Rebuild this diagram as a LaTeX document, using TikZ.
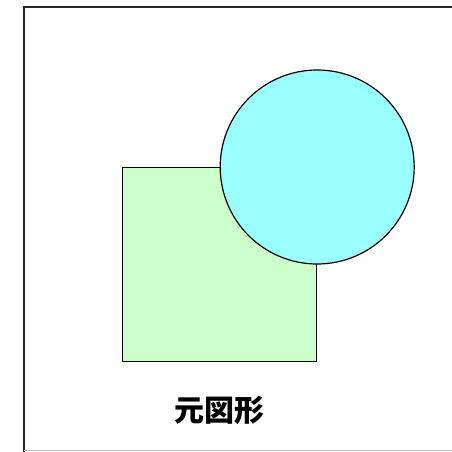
\documentclass[tikz,border=0pt]{standalone}
\usepackage{fontspec}
\newfontfamily\cjk{Noto Sans CJK JP}
\definecolor{sqgreen}{RGB}{204,255,204}
\definecolor{circcyan}{RGB}{153,255,255}
\begin{document}
\begin{tikzpicture}[x=1pt,y=-1pt,
  shapeline/.style={draw=black,line width=1.2pt},
  frameline/.style={draw=black!85,line width=2pt}]
\useasboundingbox (0,0) rectangle (452,452);
\fill[white] (0,0) rectangle (452,452);
\coordinate (ftr) at (452,7);
\coordinate (ftl) at (24,7);
\coordinate (fbl) at (24,452);
\draw[frameline] (ftr) -- (ftl) -- (fbl);
\draw[black!25,line width=1pt] (24,450.5) -- (452,450.5);
\node[shapeline,fill=sqgreen,minimum size=194pt,inner sep=0pt,anchor=north west] (sq) at (122,167) {};
\node[shapeline,fill=circcyan,circle,minimum size=194pt,inner sep=0pt] (circ) at (sq.north east) {};
\node[font=\cjk\bfseries\fontsize{30}{30}\selectfont] (lbl) at (219,410) {元図形};
\end{tikzpicture}
\end{document}
